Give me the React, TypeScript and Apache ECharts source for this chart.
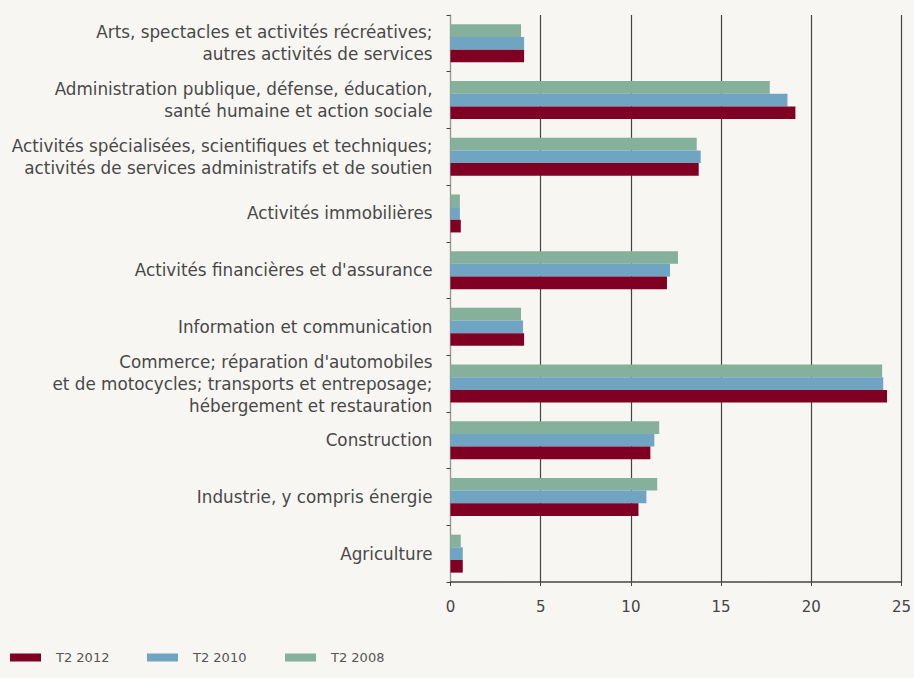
import React, { useEffect, useRef } from "react";
import * as echarts from "echarts";

const categories = [
  "Agriculture",
  "Industrie, y compris énergie",
  "Construction",
  "Commerce; réparation d'automobiles\net de motocycles; transports et entreposage;\nhébergement et restauration",
  "Information et communication",
  "Activités financières et d'assurance",
  "Activités immobilières",
  "Activités spécialisées, scientifiques et techniques;\nactivités de services administratifs et de soutien",
  "Administration publique, défense, éducation,\nsanté humaine et action sociale",
  "Arts, spectacles et activités récréatives;\nautres activités de services",
];

const t2_2012 = [0.68, 10.42, 11.08, 24.2, 4.08, 12.0, 0.57, 13.76, 19.12, 4.08];
const t2_2010 = [0.68, 10.86, 11.3, 23.99, 4.02, 12.17, 0.52, 13.87, 18.68, 4.08];
const t2_2008 = [0.57, 11.46, 11.57, 23.93, 3.91, 12.61, 0.52, 13.65, 17.7, 3.91];

const seriesNames = ["T2 2012", "T2 2010", "T2 2008"];
const colors = ["#800024", "#6fa4c2", "#85b09b"];
const xTicks = [0, 5, 10, 15, 20, 25];
const legendLefts = [5, 142, 280];

export default function App() {
  const ref = useRef<HTMLDivElement>(null);
  useEffect(() => {
    if (!ref.current) return;
    const chart = echarts.init(ref.current, null, { renderer: "svg" });
    const data = [t2_2012, t2_2010, t2_2008];
    // draw order: top bar first (2008), bottom bar last (2012)
    const order = [2, 1, 0];
    chart.setOption({
      animation: false,
      backgroundColor: "#f7f6f2",
      textStyle: { fontFamily: "DejaVu Sans" },
      legend: seriesNames.map((n, i) => ({
        left: legendLefts[i],
        top: 646,
        itemWidth: 31,
        itemHeight: 8,
        icon: "rect",
        data: [n],
        textStyle: {
          fontSize: 13,
          color: "#555",
          fontFamily: "DejaVu Sans",
          padding: [0, 0, 0, 10],
        },
      })),
      grid: { left: 450.5, width: 457, top: 15, height: 567, containLabel: false },
      xAxis: {
        type: "value",
        min: xTicks[0],
        max: xTicks[xTicks.length - 1],
        interval: 5,
        axisLine: { show: true, lineStyle: { color: "#444", width: 1.5 } },
        axisTick: { show: true, length: 4, lineStyle: { color: "#444" } },
        axisLabel: { fontSize: 15, color: "#444", margin: 17, fontFamily: "DejaVu Sans" },
        splitLine: { show: true, lineStyle: { color: "#444", width: 1.2 } },
      },
      yAxis: {
        type: "category",
        data: categories,
        axisLine: { show: true, lineStyle: { color: "#999", width: 1 } },
        axisTick: { show: true, length: 4, lineStyle: { color: "#444" } },
        axisLabel: {
          fontSize: 16.8,
          color: "#484848",
          margin: 18,
          lineHeight: 22,
          align: "right",
          fontFamily: "DejaVu Sans",
        },
      },
      series: order.map((i) => ({
        name: seriesNames[i],
        type: "bar",
        data: data[i],
        itemStyle: { color: colors[i] },
        barGap: "0%",
        barCategoryGap: "33%",
      })),
    });
    return () => chart.dispose();
  }, []);
  return <div ref={ref} style={{ width: 914, height: 678, position: "absolute", left: 0, top: 0 }} />;
}
